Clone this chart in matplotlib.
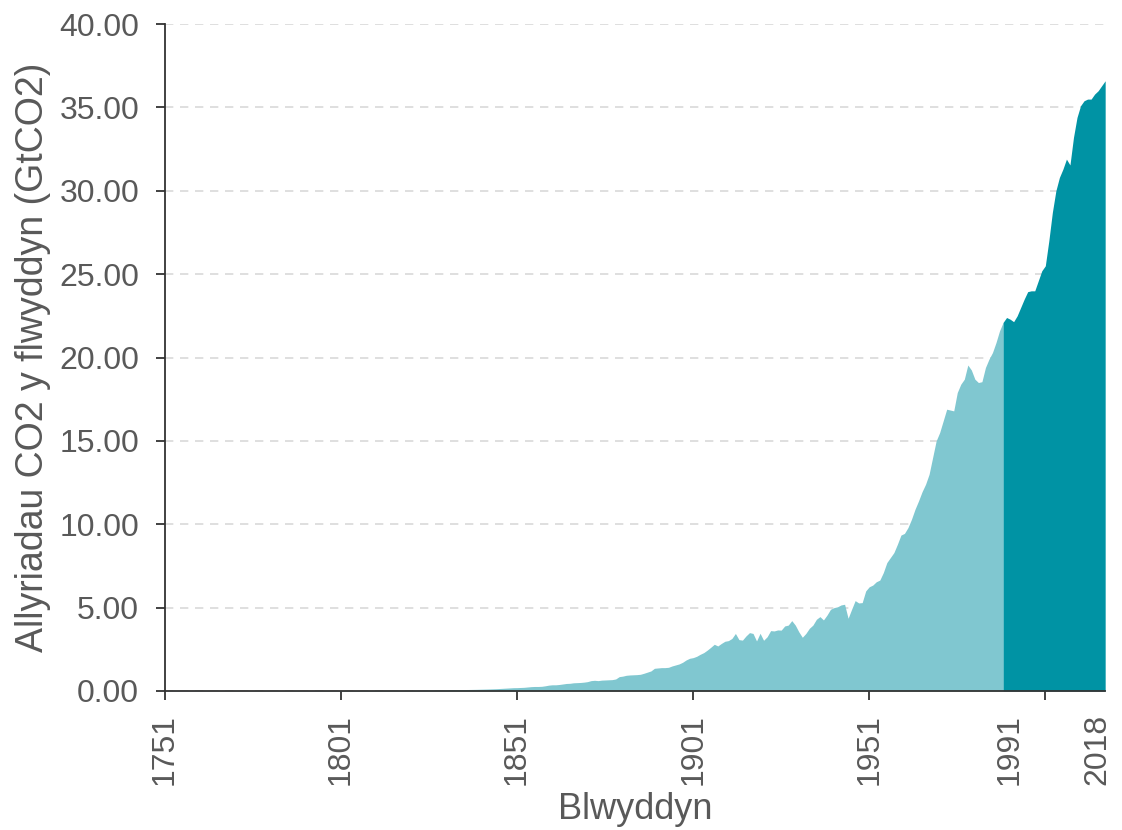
import numpy as np
import matplotlib.pyplot as plt
from matplotlib.transforms import ScaledTranslation

# === Data (GtCO2 per year) ===
years = list(range(1751, 2019))
emissions = [
    0.009, 0.009, 0.009, 0.009, 0.009, 0.010, 0.010, 0.010, 0.010, 0.010,  # 1751-1760
    0.010, 0.010, 0.010, 0.011, 0.011, 0.011, 0.011, 0.012, 0.012, 0.012,  # 1761-1770
    0.013, 0.013, 0.013, 0.013, 0.014, 0.014, 0.014, 0.014, 0.015, 0.015,  # 1771-1780
    0.016, 0.016, 0.016, 0.017, 0.017, 0.018, 0.018, 0.019, 0.019, 0.020,  # 1781-1790
    0.021, 0.022, 0.022, 0.023, 0.024, 0.024, 0.025, 0.026, 0.027, 0.028,  # 1791-1800
    0.028, 0.029, 0.030, 0.031, 0.031, 0.032, 0.033, 0.034, 0.035, 0.036,  # 1801-1810
    0.037, 0.037, 0.038, 0.039, 0.040, 0.041, 0.041, 0.042, 0.043, 0.043,  # 1811-1820
    0.046, 0.048, 0.050, 0.052, 0.055, 0.057, 0.059, 0.061, 0.063, 0.066,  # 1821-1830
    0.069, 0.072, 0.075, 0.078, 0.082, 0.085, 0.089, 0.093, 0.097, 0.102,  # 1831-1840
    0.108, 0.114, 0.120, 0.128, 0.136, 0.148, 0.160, 0.172, 0.184, 0.197,  # 1841-1850
    0.20, 0.21, 0.22, 0.24, 0.26, 0.27, 0.27, 0.28, 0.31, 0.35,  # 1851-1860
    0.37, 0.37, 0.39, 0.42, 0.45, 0.46, 0.49, 0.50, 0.51, 0.53,  # 1861-1870
    0.56, 0.62, 0.64, 0.62, 0.65, 0.66, 0.67, 0.68, 0.72, 0.86,  # 1871-1880
    0.89, 0.94, 0.96, 0.97, 0.98, 1.00, 1.06, 1.13, 1.20, 1.36,  # 1881-1890
    1.38, 1.40, 1.40, 1.42, 1.50, 1.56, 1.62, 1.72, 1.86, 1.96,  # 1891-1900
    2.00, 2.08, 2.20, 2.30, 2.45, 2.62, 2.80, 2.70, 2.85, 2.98,  # 1901-1910
    3.02, 3.15, 3.45, 3.08, 3.05, 3.30, 3.50, 3.45, 3.00, 3.46,  # 1911-1920
    3.04, 3.25, 3.62, 3.60, 3.66, 3.65, 3.90, 3.95, 4.22, 3.95,  # 1921-1930
    3.55, 3.22, 3.45, 3.76, 3.95, 4.30, 4.46, 4.26, 4.55, 4.90,  # 1931-1940
    5.00, 5.05, 5.16, 5.20, 4.36, 4.90, 5.42, 5.28, 5.30, 6.00,  # 1941-1950
    6.25, 6.35, 6.55, 6.65, 7.10, 7.70, 8.00, 8.30, 8.80, 9.35,  # 1951-1960
    9.45, 9.80, 10.30, 10.90, 11.40, 11.95, 12.40, 13.00, 14.00, 15.00,  # 1961-1970
    15.50, 16.20, 16.90, 16.85, 16.80, 17.90, 18.40, 18.70, 19.55, 19.25,  # 1971-1980
    18.70, 18.50, 18.55, 19.40, 19.90, 20.30, 20.90, 21.60, 22.10, 22.40,  # 1981-1990
    22.30, 22.15, 22.50, 23.00, 23.50, 23.95, 24.00, 24.00, 24.60, 25.20,  # 1991-2000
    25.50, 27.00, 28.70, 30.00, 30.80, 31.30, 31.90, 31.55, 33.20, 34.40,  # 2001-2010
    35.10, 35.40, 35.50, 35.50, 35.80, 36.00, 36.30, 36.60,  # 2011-2018
]
split_year = 1989

major_ticks = [1751, 1801, 1851, 1901, 1951, 2001]
major_labels = ["1751", "1801", "1851", "1901", "1951", ""]
extra_ticks = [1991, 2018]
extra_labels = ["1991", "2018"]
y_ticks = [0, 5, 10, 15, 20, 25, 30, 35, 40]

# === Style ===
LIGHT = "#80C7D0"
DARK = "#0093A4"
TEXT = "#595959"
plt.rcParams["font.family"] = ["Liberation Sans", "DejaVu Sans"]

yrs = np.array(years)
em = np.array(emissions)

fig, ax = plt.subplots(figsize=(11.22, 8.30), dpi=100)
fig.subplots_adjust(left=0.147, right=0.985, bottom=0.1675, top=0.971)

ax.fill_between(yrs[yrs <= split_year], em[yrs <= split_year], color=LIGHT, lw=0, zorder=2)
ax.fill_between(yrs[yrs >= split_year], em[yrs >= split_year], color=DARK, lw=0, zorder=2)

ax.set_xlim(1751, 2018)
ax.set_ylim(0, 40)

ax.set_yticks(y_ticks)
ax.set_yticklabels([f"{v:.2f}" for v in y_ticks])
ax.yaxis.grid(True, color="#D9D9D9", linestyle=(0, (5, 4)), linewidth=1.2, zorder=0)
ax.set_axisbelow(True)

ax.set_xticks(major_ticks)
ax.set_xticklabels(major_labels, rotation=90)
ax.set_xticks(extra_ticks, minor=True)
ax.set_xticklabels(extra_labels, minor=True, rotation=90)

for s in ["top", "right"]:
    ax.spines[s].set_visible(False)
for s in ["left", "bottom"]:
    ax.spines[s].set_color("#333333")
    ax.spines[s].set_linewidth(1.3)
    ax.spines[s].set_zorder(3)

ax.tick_params(axis="y", length=6.5, width=1.3, color="#333333", pad=12,
               labelsize=23, labelcolor=TEXT)
ax.tick_params(axis="x", which="major", length=6.5, width=1.3, color="#333333",
               pad=10, labelsize=23, labelcolor=TEXT)
ax.tick_params(axis="x", which="minor", length=0, pad=16.5,
               labelsize=23, labelcolor=TEXT)

# last year label sits a little inside the right edge
last = ax.get_xticklabels(minor=True)[-1]
last.set_transform(last.get_transform() + ScaledTranslation(-0.08, 0, fig.dpi_scale_trans))

ax.set_xlabel("Blwyddyn", fontsize=26, color=TEXT, labelpad=5)
ax.set_ylabel("Allyriadau CO2 y flwyddyn (GtCO2)", fontsize=27, color=TEXT, labelpad=6)

fig.savefig("out.png", dpi=100)
